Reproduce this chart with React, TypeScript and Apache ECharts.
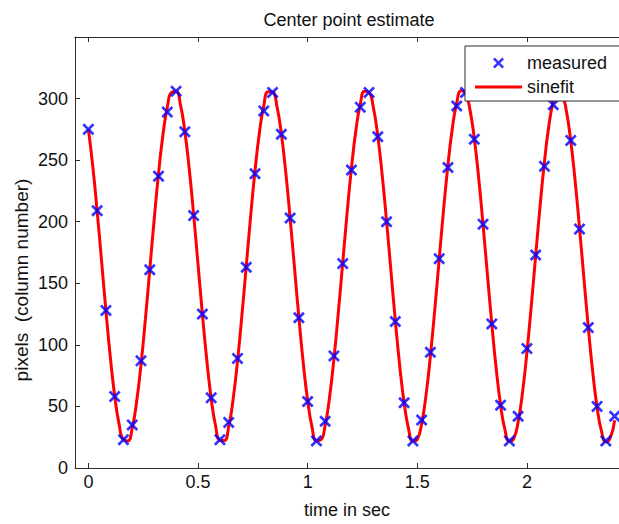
import React, { useEffect, useRef } from "react";
import * as echarts from "echarts";

// Measured samples (time in sec, pixel column)
const timeSec = [
  0, 0.04, 0.08, 0.12, 0.16, 0.2, 0.24, 0.28, 0.32, 0.36,
  0.4, 0.44, 0.48, 0.52, 0.56, 0.6, 0.64, 0.68, 0.72, 0.76,
  0.8, 0.84, 0.88, 0.92, 0.96, 1, 1.04, 1.08, 1.12, 1.16,
  1.2, 1.24, 1.28, 1.32, 1.36, 1.4, 1.44, 1.48, 1.52, 1.56,
  1.6, 1.64, 1.68, 1.72, 1.76, 1.8, 1.84, 1.88, 1.92, 1.96,
  2, 2.04, 2.08, 2.12, 2.16, 2.2, 2.24, 2.28, 2.32, 2.36, 2.4,
];
const measured = [
  275, 209, 128, 58, 23, 35, 87, 161, 237, 289,
  306, 273, 205, 125, 57, 23, 37, 89, 163, 239,
  290, 305, 271, 203, 122, 54, 22, 38, 91, 166,
  242, 293, 305, 269, 200, 119, 53, 22, 39, 94,
  170, 244, 294, 305, 267, 198, 117, 51, 22, 42,
  97, 173, 245, 295, 304, 266, 194, 114, 50, 22, 42,
];

// Sine fit curve, read at 0.02 s steps
const fitTime = [
  0, 0.02, 0.04, 0.06, 0.08, 0.1, 0.12, 0.14, 0.16, 0.18,
  0.2, 0.22, 0.24, 0.26, 0.28, 0.3, 0.32, 0.34, 0.36, 0.38,
  0.4, 0.42, 0.44, 0.46, 0.48, 0.5, 0.52, 0.54, 0.56, 0.58,
  0.6, 0.62, 0.64, 0.66, 0.68, 0.7, 0.72, 0.74, 0.76, 0.78,
  0.8, 0.82, 0.84, 0.86, 0.88, 0.9, 0.92, 0.94, 0.96, 0.98,
  1, 1.02, 1.04, 1.06, 1.08, 1.1, 1.12, 1.14, 1.16, 1.18,
  1.2, 1.22, 1.24, 1.26, 1.28, 1.3, 1.32, 1.34, 1.36, 1.38,
  1.4, 1.42, 1.44, 1.46, 1.48, 1.5, 1.52, 1.54, 1.56, 1.58,
  1.6, 1.62, 1.64, 1.66, 1.68, 1.7, 1.72, 1.74, 1.76, 1.78,
  1.8, 1.82, 1.84, 1.86, 1.88, 1.9, 1.92, 1.94, 1.96, 1.98,
  2, 2.02, 2.04, 2.06, 2.08, 2.1, 2.12, 2.14, 2.16, 2.18,
  2.2, 2.22, 2.24, 2.26, 2.28, 2.3, 2.32, 2.34, 2.36, 2.38, 2.4,
];
const fitValues = [
  275.2, 245.2, 208.6, 168.4, 127.8, 90.2, 58.6, 35.6, 23.0, 22.0,
  32.5, 53.8, 84.0, 120.8, 161.0, 201.6, 239.0, 270.4, 293.0, 305.2,
  305.8, 294.9, 273.3, 242.8, 205.9, 165.5, 125.0, 87.7, 56.7, 34.3,
  22.6, 22.4, 33.7, 55.6, 86.4, 123.5, 163.9, 204.3, 241.5, 272.3,
  294.3, 305.6, 305.4, 293.7, 271.5, 240.4, 203.1, 162.7, 122.3, 85.3,
  54.8, 33.2, 22.2, 22.8, 34.9, 57.5, 88.8, 126.3, 166.8, 207.1,
  243.9, 274.1, 295.4, 306.0, 305.0, 292.5, 269.5, 237.9, 200.3, 159.8,
  119.5, 83.0, 53.0, 32.0, 21.8, 23.3, 36.1, 59.4, 91.3, 129.0,
  169.7, 209.8, 246.2, 275.9, 296.5, 306.3, 304.5, 291.2, 267.6, 235.5,
  197.5, 156.9, 116.8, 80.6, 51.2, 30.9, 21.6, 23.8, 37.5, 61.4,
  93.8, 131.9, 172.5, 212.5, 248.6, 277.7, 297.6, 306.6, 303.9, 289.9,
  265.5, 233.0, 194.8, 154.0, 114.1, 78.3, 49.5, 29.9, 21.3, 24.4, 38.8,
];

const xTicks = [0, 0.5, 1, 1.5, 2];
const yTicks = [0, 50, 100, 150, 200, 250, 300];

const FONT = "'Liberation Sans', Arial, Helvetica, sans-serif";
const AXIS = "#2a2a2a";
const TEXT = "#111111";
const CROSS =
  "path://M0,1.6L1.6,0L5,3.4L8.4,0L10,1.6L6.6,5L10,8.4L8.4,10L5,6.6L1.6,10L0,8.4L3.4,5Z";

export default function App() {
  const ref = useRef<HTMLDivElement>(null);

  useEffect(() => {
    if (!ref.current) return;
    const chart = echarts.init(ref.current, undefined, { renderer: "svg" });
    const axisCommon = {
      axisLine: { show: true, onZero: false, lineStyle: { color: AXIS, width: 1 } },
      splitLine: { show: false },
    };
    chart.setOption({
      animation: false,
      backgroundColor: "#ffffff",
      textStyle: { fontFamily: FONT },
      title: {
        text: "Center point estimate",
        left: 349,
        textAlign: "center",
        top: 11,
        padding: 0,
        textStyle: { fontSize: 18, fontWeight: "normal", color: TEXT, fontFamily: FONT },
      },
      legend: {
        orient: "vertical",
        left: 465,
        top: 46,
        itemWidth: 47,
        itemHeight: 11,
        itemGap: 6,
        padding: [8, 21, 5, 10],
        backgroundColor: "#ffffff",
        borderColor: AXIS,
        borderWidth: 1,
        borderRadius: 0,
        textStyle: { fontSize: 18, color: TEXT, fontFamily: FONT },
        data: [
          { name: "measured", icon: CROSS },
          { name: "sinefit", icon: "path://M0,0H47V3H0Z" },
        ],
      },
      grid: { left: 75, top: 37, width: 546, height: 437, containLabel: false },
      graphic: [
        {
          type: "text",
          x: 21,
          y: 280,
          rotation: Math.PI / 2,
          style: {
            text: "pixels  (column number)",
            fontSize: 19,
            fontFamily: FONT,
            fill: TEXT,
            align: "center",
            verticalAlign: "middle",
          },
        },
      ],
      xAxis: [
        {
          ...axisCommon,
          type: "value",
          position: "bottom",
          min: -0.061,
          max: 2.42,
          name: "time in sec",
          nameLocation: "middle",
          nameGap: 33,
          nameTextStyle: { fontSize: 18, color: TEXT, fontFamily: FONT },
          axisTick: { show: true, inside: true, length: 5, customValues: xTicks, lineStyle: { color: AXIS } },
          axisLabel: { show: true, customValues: xTicks, fontSize: 18, color: TEXT, margin: 5, fontFamily: FONT },
        },
        {
          ...axisCommon,
          type: "value",
          position: "top",
          min: -0.061,
          max: 2.42,
          axisTick: { show: true, inside: true, length: 5, customValues: xTicks, lineStyle: { color: AXIS } },
          axisLabel: { show: false },
        },
      ],
      yAxis: [
        {
          ...axisCommon,
          type: "value",
          position: "left",
          min: 0,
          max: 350,
          axisTick: { show: true, inside: true, length: 5, customValues: yTicks, lineStyle: { color: AXIS } },
          axisLabel: { show: true, customValues: yTicks, fontSize: 18, color: TEXT, margin: 7, fontFamily: FONT },
        },
      ],
      series: [
        {
          name: "sinefit",
          type: "line",
          xAxisIndex: 0,
          yAxisIndex: 0,
          data: fitTime.map((t, i) => [t, fitValues[i]]),
          showSymbol: false,
          smooth: true,
          color: "#ff0000",
          lineStyle: { color: "#ff0000", width: 3 },
          z: 2,
        },
        {
          name: "measured",
          type: "scatter",
          xAxisIndex: 0,
          yAxisIndex: 0,
          data: timeSec.map((t, i) => [t, measured[i]]),
          symbol: CROSS,
          symbolSize: 12,
          color: "#0000ff",
          itemStyle: { color: "#0000ff" },
          z: 3,
        },
      ],
    });
    return () => chart.dispose();
  }, []);

  return (
    <div
      ref={ref}
      style={{ position: "fixed", left: 0, top: 0, width: 619, height: 524, background: "#fff" }}
    />
  );
}
